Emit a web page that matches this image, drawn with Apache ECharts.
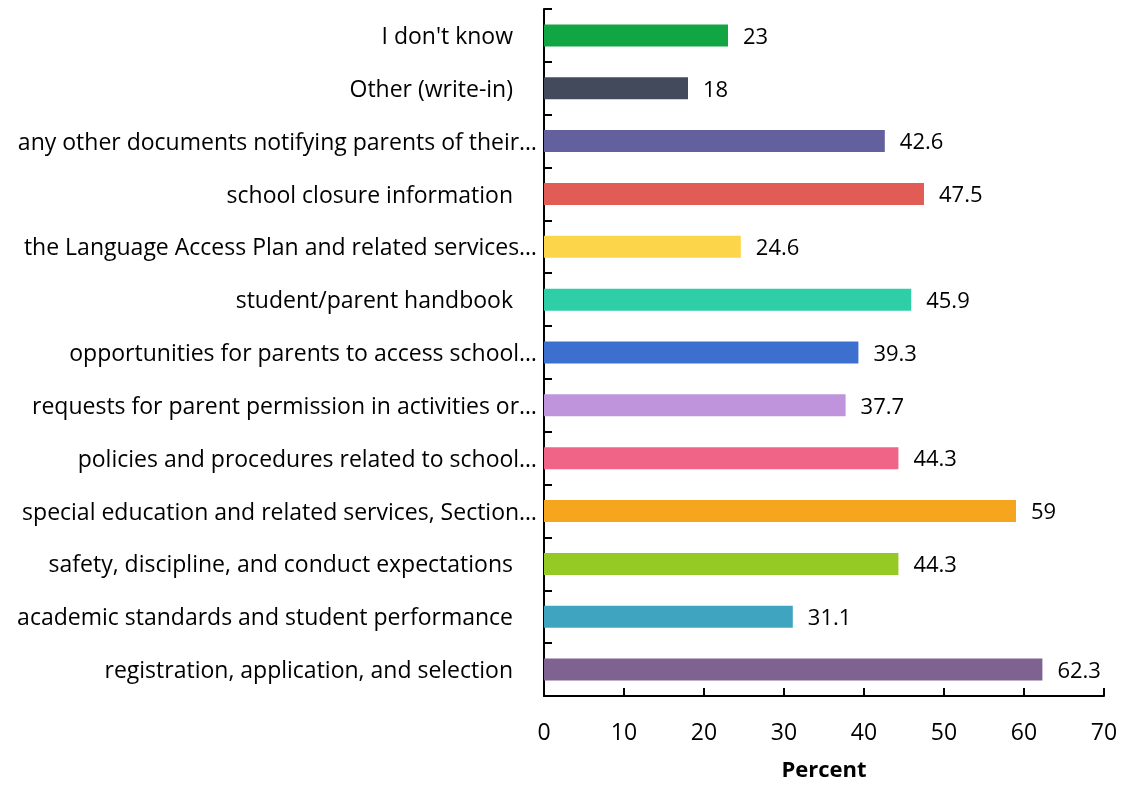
<!DOCTYPE html>
<html>
<head>
<meta charset="utf-8">
<script src="https://cdn.jsdelivr.net/npm/echarts@6/dist/echarts.min.js"></script>
<style>
  html, body { margin: 0; padding: 0; background: #fff; }
  #chart { width: 1124px; height: 785px; }
</style>
</head>
<body>
<div id="chart"></div>
<script>
// Survey responses, listed top to bottom
const categories = [
  "I don't know",
  "Other (write-in)",
  "any other documents notifying parents of their…",
  "school closure information",
  "the Language Access Plan and related services…",
  "student/parent handbook",
  "opportunities for parents to access school…",
  "requests for parent permission in activities or…",
  "policies and procedures related to school…",
  "special education and related services, Section…",
  "safety, discipline, and conduct expectations",
  "academic standards and student performance",
  "registration, application, and selection"
];
const percentValues = [23, 18, 42.6, 47.5, 24.6, 45.9, 39.3, 37.7, 44.3, 59, 44.3, 31.1, 62.3];
const barColors = [
  "#12a544", "#434a5c", "#64609e", "#e05c55", "#fdd54a", "#2ecfa6", "#3d6fcf",
  "#c094dc", "#f06587", "#f5a51e", "#95c924", "#3fa4c0", "#7e628f"
];
const xTicks = [0, 10, 20, 30, 40, 50, 60, 70];

const FONT = "'Open Sans', Lato, sans-serif";
const SIZE = 23;
const chart = echarts.init(document.getElementById('chart'), null, { renderer: 'canvas' });

chart.setOption({
  animation: false,
  backgroundColor: '#fff',
  grid: { left: 544, right: 20, top: 9, bottom: 89, containLabel: false, outerBoundsMode: 'none' },
  xAxis: {
    type: 'value',
    min: xTicks[0],
    max: xTicks[xTicks.length - 1],
    interval: 10,
    name: 'Percent',
    nameLocation: 'middle',
    nameGap: 64,
    nameTextStyle: { fontFamily: FONT, fontSize: 22, fontWeight: 'bold', color: '#000' },
    axisLine: { show: true, lineStyle: { color: '#000', width: 2 } },
    axisTick: { show: true, inside: true, length: 8, lineStyle: { color: '#000', width: 2 } },
    axisLabel: { fontFamily: FONT, fontSize: SIZE, color: '#000', margin: 26 },
    splitLine: { show: false }
  },
  yAxis: {
    type: 'category',
    inverse: true,
    data: categories,
    axisLine: { show: true, lineStyle: { color: '#000', width: 2 } },
    axisTick: { show: true, inside: true, length: 8, alignWithLabel: false, lineStyle: { color: '#000', width: 2 } },
    axisLabel: {
      fontFamily: FONT, fontSize: SIZE, color: '#000', margin: 7,
      formatter: function (v) {
        return v.endsWith('…') ? '{cut|' + v + '}' : '{full|' + v + '}';
      },
      rich: {
        cut: { fontFamily: FONT, fontSize: SIZE, color: '#000', padding: [4, 0, 0, 0] },
        full: { fontFamily: FONT, fontSize: SIZE, color: '#000', padding: [4, 24, 0, 0] }
      }
    }
  },
  series: [{
    type: 'bar',
    barWidth: 22,
    data: percentValues.map((v, i) => ({ value: v, itemStyle: { color: barColors[i] } })),
    label: {
      show: true,
      position: 'right',
      distance: 15,
      offset: [0, 2],
      fontFamily: FONT,
      fontSize: 22,
      color: '#000'
    }
  }]
});
</script>
</body>
</html>
